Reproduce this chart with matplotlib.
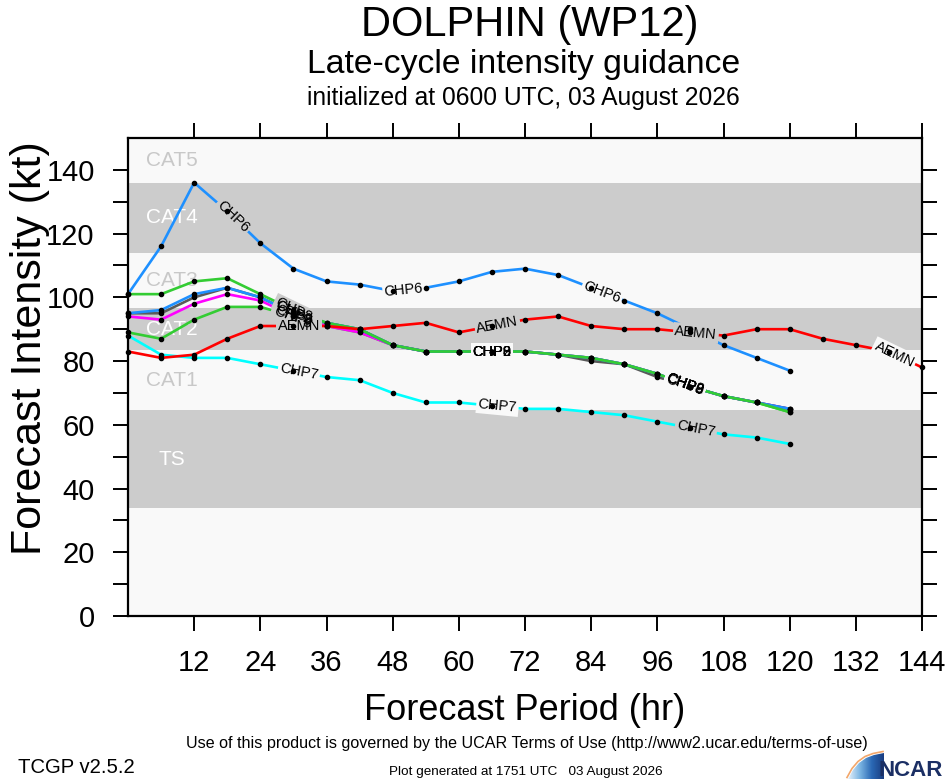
import numpy as np
import matplotlib
matplotlib.use("Agg")
import matplotlib.pyplot as plt
from matplotlib.patches import Polygon

plt.rcParams['font.family'] = ['Liberation Sans', 'DejaVu Sans']

# forecast hours and model intensities (kt)
hours = list(range(0, 145, 6))

chp6 = [101, 116, 136, 127, 117, 109, 105, 104, 102, 103, 105, 108, 109, 107, 103, 99, 95, 90, 85, 81, 77]
aemn = [83, 81, 82, 87, 91, 91, 91, 90, 91, 92, 89, 91, 93, 94, 91, 90, 90, 89, 88, 90, 90, 87, 85, 83, 78]
chp7 = [88, 82, 81, 81, 79, 77, 75, 74, 70, 67, 67, 66, 65, 65, 64, 63, 61, 59, 57, 56, 54]
chp8 = [101, 101, 105, 106, 101, 96, 92, 90, 85, 83, 83, 83, 83, 82, 81, 79, 76, 72, 69, 67, 64]
chp9 = [95, 96, 101, 103, 100, 95, 92, 90, 85, 83, 83, 83, 83, 82, 81, 79, 76, 72, 69, 67, 65]
chp2 = [95, 95, 100, 103, 100, 95, 92, 90, 85, 83, 83, 83, 83, 82, 80, 79, 75, 72, 69, 67, 65]
chp3 = [94, 93, 98, 101, 99, 94, 91, 89, 85, 83, 83, 83, 83, 82, 81, 79, 76, 72, 69, 67, 65]
chp0 = [89, 87, 93, 97, 97, 94, 91, 89, 85, 83, 83, 83, 83, 82, 81, 79, 76, 72, 69, 67, 64]

# Saffir-Simpson style bands
band_edges = [0, 34, 64.5, 83.5, 96.5, 114, 136, 150]
band_names = ['', 'TS', 'CAT1', 'CAT2', 'CAT3', 'CAT4', 'CAT5']

LIGHT = '#f9f9f9'
GRAY = '#cccccc'

# name, values, colour, label hours
series = [
    ('CHP0', chp0, '#33cc33', [30, 66, 101]),
    ('CHP3', chp3, '#ff00ff', [30, 66, 101]),
    ('CHP2', chp2, '#5a5a5a', [30, 66, 101]),
    ('CHP9', chp9, '#1e90ff', [30, 66, 101]),
    ('CHP8', chp8, '#33cc33', [30, 66, 101]),
    ('CHP7', chp7, '#00ffff', [31, 67, 103]),
    ('AEMN', aemn, '#ff0000', [31, 67, 103, 139]),
    ('CHP6', chp6, '#1e90ff', [19, 50, 86]),
]

W, H = 946, 780
fig = plt.figure(figsize=(W / 100, H / 100), dpi=100)
fig.patch.set_facecolor('white')


def fx(x):
    return x / W


def fy(y):
    return 1 - y / H


ax = fig.add_axes([fx(128), fy(616), fx(922) - fx(128), fy(138) - fy(616)])
ax.set_xlim(0, 144)
ax.set_ylim(0, 150)
ax.set_facecolor(LIGHT)


def band_color(v):
    for i in range(len(band_edges) - 1):
        if band_edges[i] <= v < band_edges[i + 1]:
            return GRAY if i % 2 == 1 else LIGHT
    return LIGHT


for i in range(len(band_edges) - 1):
    lo, hi = band_edges[i], band_edges[i + 1]
    c = GRAY if i % 2 == 1 else LIGHT
    ax.axhspan(lo, hi, color=c, zorder=0, lw=0)
    if band_names[i]:
        tc = 'white' if i % 2 == 1 else '#c8c8c8'
        ax.text(8, (lo + hi) / 2, band_names[i], color=tc, fontsize=15,
                ha='center', va='center', zorder=1)

for name, vals, col, lab_hrs in series:
    xs = hours[:len(vals)]
    ax.plot(xs, vals, color=col, lw=1.9, zorder=2, solid_capstyle='round')
    ax.plot(xs, vals, 'o', color='black', ms=3, zorder=6, clip_on=False)


def line_label(xs, ys, hr, text):
    xs = np.asarray(xs, float)
    ys = np.asarray(ys, float)
    k = min(max(np.searchsorted(xs, hr) - 1, 0), len(xs) - 2)
    y = np.interp(hr, xs, ys)
    p0 = ax.transData.transform((xs[k], ys[k]))
    p1 = ax.transData.transform((xs[k + 1], ys[k + 1]))
    ang = np.degrees(np.arctan2(p1[1] - p0[1], p1[0] - p0[0]))
    bg = band_color(y)
    ax.text(hr, y, text, rotation=ang, rotation_mode='anchor', ha='center',
            va='center', fontsize=10.5, color='none', zorder=4,
            bbox=dict(boxstyle='square,pad=0.12', fc=bg, ec='none'))
    ax.text(hr, y, text, rotation=ang, rotation_mode='anchor', ha='center',
            va='center', fontsize=10.5, color='black', zorder=5)


for name, vals, col, lab_hrs in series:
    for hr in lab_hrs:
        line_label(hours[:len(vals)], vals, hr, name)

ax.set_xticks(range(12, 145, 12))
ax.set_yticks(range(0, 141, 10))
ax.set_yticklabels([str(v) if v % 20 == 0 else '' for v in range(0, 141, 10)])
ax.tick_params(direction='out', length=11, width=1.4, pad=13, labelsize=21,
               top=True, right=True, labeltop=False, labelright=False)
for s in ax.spines.values():
    s.set_linewidth(1.6)

fig.text(fx(30), fy(348), 'Forecast Intensity (kt)', rotation=90, fontsize=31,
         ha='center', va='center')
fig.text(fx(525), fy(720), 'Forecast Period (hr)', fontsize=26, ha='center',
         va='baseline')

# titles
fig.text(fx(530), fy(36), 'DOLPHIN (WP12)', fontsize=30, ha='center', va='baseline')
fig.text(fx(524), fy(73), 'Late-cycle intensity guidance', fontsize=24.3, ha='center',
         va='baseline')
fig.text(fx(523), fy(105), 'initialized at 0600 UTC, 03 August 2026', fontsize=17.7,
         ha='center', va='baseline')

# footer
fig.text(fx(527), fy(748), 'Use of this product is governed by the UCAR Terms of Use '
         '(http://www2.ucar.edu/terms-of-use)', fontsize=11.6, ha='center', va='baseline')
fig.text(fx(18), fy(773), 'TCGP v2.5.2', fontsize=14.6, ha='left', va='baseline')
fig.text(fx(526), fy(775), 'Plot generated at 1751 UTC   03 August 2026', fontsize=9.7,
         ha='center', va='baseline')

# NCAR logo
lg = fig.add_axes([0, 0, 1, 1], zorder=10)
lg.set_xlim(0, W)
lg.set_ylim(H, 0)
lg.axis('off')
arc = [(848, 779), (853, 770), (859, 763), (866, 758), (874, 755), (884, 753)]
poly = Polygon(arc + [(884, 779)], closed=True, fc='none', ec='none')
lg.add_patch(poly)
grad = np.linspace(0, 1, 64).reshape(1, -1)
im = lg.imshow(grad, cmap=matplotlib.colors.LinearSegmentedColormap.from_list(
    'sw', ['#e3f0fa', '#7ab4e2', '#2a68b4', '#1a3d80']),
    extent=[848, 884, 779, 753], aspect='auto', zorder=1)
im.set_clip_path(poly)
arc_xy = np.array(arc)
lg.plot(arc_xy[:, 0] - 1, arc_xy[:, 1] - 1.5, color='#f2a66a', lw=1.2, zorder=2)
lg.text(943, 776, 'NCAR', fontsize=16, fontweight='bold', color='#1b2f64',
        ha='right', va='baseline', zorder=3)

fig.savefig('out.png', dpi=100)
